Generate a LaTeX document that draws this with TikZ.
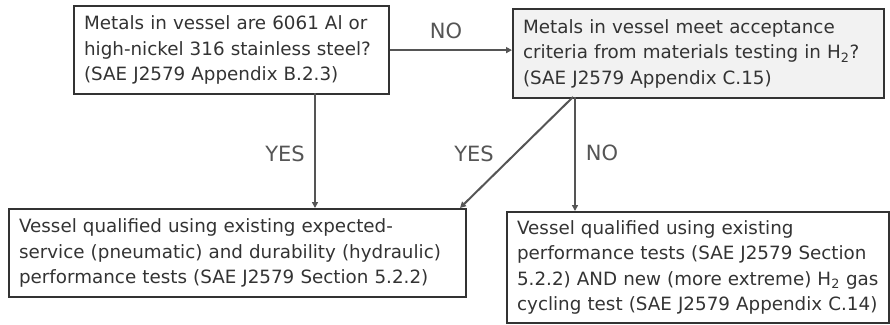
\documentclass[tikz,border=0pt]{standalone}
\usepackage{fontspec}
\setmainfont{DejaVu Sans}
\usetikzlibrary{arrows.meta}
\definecolor{txt}{HTML}{333333}
\definecolor{ln}{HTML}{555555}
\definecolor{bfill}{HTML}{F2F2F2}
\tikzset{
  box/.style={draw=txt, line width=2.2pt, anchor=north west, align=left, inner xsep=10pt, inner ysep=0pt,
    text=txt, font=\fontsize{18.3pt}{25.5pt}\selectfont},
  conn/.style={draw=ln, line width=2pt, -{Triangle[length=6pt,width=6pt]}},
  lab/.style={text=ln, font=\fontsize{21pt}{24pt}\selectfont}
}
\begin{document}
\begin{tikzpicture}[x=1pt,y=-1pt]
\useasboundingbox (0,0) rectangle (890,324);
\node[box, minimum width=315pt, minimum height=88pt, text width=295pt] (a) at (73,5)
  {Metals in vessel are 6061 Al or\\high-nickel 316 stainless steel?\\(SAE J2579 Appendix B.2.3)};
\node[box, fill=bfill, minimum width=371pt, minimum height=89pt, text width=351pt] (b) at (512,8)
  {Metals in vessel meet acceptance\\criteria from materials testing in H\textsubscript{2}?\\(SAE J2579 Appendix C.15)};
\node[box, minimum width=457pt, minimum height=88pt, text width=437pt] (c) at (8,208)
  {Vessel qualified using existing expected-\\service (pneumatic) and durability (hydraulic)\\performance tests (SAE J2579 Section 5.2.2)};
\node[box, minimum width=382pt, minimum height=111pt, text width=362pt] (d) at (506,211)
  {Vessel qualified using existing\\performance tests (SAE J2579 Section\\5.2.2) AND new (more extreme) H\textsubscript{2} gas\\cycling test (SAE J2579 Appendix C.14)};
\coordinate (a1) at (315,93);
\coordinate (b1) at (575,97);
\coordinate (b2) at (573,97);
\coordinate (c1) at (460,208);
\draw[conn] (a.east) -- (a.east -| b.west);
\draw[conn] (a1) -- (a1 |- c.north);
\draw[conn] (b1) -- (b1 |- d.north);
\draw[conn] (b2) -- (c1);
\node[lab] (no1) at (446,31) {NO};
\node[lab] (yes1) at (285,154) {YES};
\node[lab] (yes2) at (474,154) {YES};
\node[lab] (no2) at (602,153) {NO};
\end{tikzpicture}
\end{document}
